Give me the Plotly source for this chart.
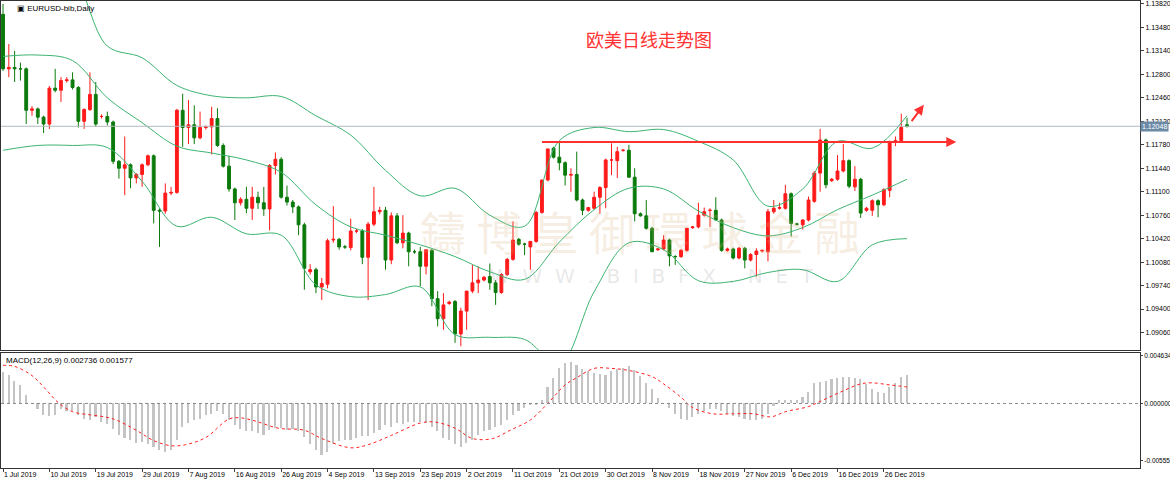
import plotly.graph_objects as go

# daily bars, 1 Jul 2019 .. 31 Dec 2019 (bar index = position)
opens = [1.1367, 1.1288, 1.1290, 1.1288, 1.1288, 1.1228, 1.1230, 1.1218, 1.1208, 1.1260,
         1.1257, 1.1271, 1.1272, 1.1261, 1.1212, 1.1229, 1.1251, 1.1219, 1.1219, 1.1211,
         1.1154, 1.1144, 1.1149, 1.1130, 1.1135, 1.1149, 1.1162, 1.1083, 1.1082, 1.1108,
         1.1109, 1.1228, 1.1203, 1.1207, 1.1188, 1.1203, 1.1204, 1.1216, 1.1177, 1.1147,
         1.1114, 1.1094, 1.1099, 1.1086, 1.1102, 1.1094, 1.1085, 1.1148, 1.1157, 1.1102,
         1.1095, 1.1088, 1.1062, 1.0994, 1.0997, 1.0972, 1.0976, 1.1040, 1.1041, 1.1030,
         1.1029, 1.1053, 1.1053, 1.1015, 1.1063, 1.1081, 1.1083, 1.1011, 1.1075, 1.1036,
         1.1050, 1.1023, 1.1023, 1.1002, 1.1025, 1.0955, 1.0926, 1.0948, 1.0951, 1.0904,
         1.0937, 1.0966, 1.0978, 1.0982, 1.0987, 1.0978, 1.0964, 1.0990, 1.1012, 1.1041,
         1.1034, 1.1030, 1.1038, 1.1080, 1.1127, 1.1173, 1.1160, 1.1152, 1.1134, 1.1135,
         1.1098, 1.1083, 1.1086, 1.1102, 1.1116, 1.1156, 1.1155, 1.1170, 1.1170, 1.1131,
         1.1078, 1.1075, 1.1057, 1.1026, 1.1027, 1.1040, 1.1016, 1.1016, 1.1025, 1.1058,
         1.1059, 1.1076, 1.1083, 1.1083, 1.1069, 1.1025, 1.1027, 1.1014, 1.1028, 1.1011,
         1.1019, 1.1024, 1.1023, 1.1081, 1.1086, 1.1086, 1.1107, 1.1063, 1.1062, 1.1069,
         1.1096, 1.1137, 1.1185, 1.1126, 1.1128, 1.1140, 1.1155, 1.1117, 1.1128, 1.1083,
         1.1083, 1.1097, 1.1091, 1.1112, 1.1182, 1.1184, 1.1207]
highs = [1.1382, 1.1324, 1.1314, 1.1297, 1.1290, 1.1234, 1.1232, 1.1220, 1.1263, 1.1288,
         1.1276, 1.1276, 1.1283, 1.1263, 1.1231, 1.1283, 1.1269, 1.1222, 1.1226, 1.1213,
         1.1156, 1.1190, 1.1151, 1.1137, 1.1151, 1.1164, 1.1164, 1.1086, 1.1122, 1.1117,
         1.1230, 1.1252, 1.1243, 1.1235, 1.1226, 1.1206, 1.1233, 1.1231, 1.1180, 1.1162,
         1.1116, 1.1102, 1.1117, 1.1117, 1.1110, 1.1117, 1.1150, 1.1167, 1.1160, 1.1119,
         1.1098, 1.1090, 1.1065, 1.1005, 1.1000, 1.0985, 1.1042, 1.1089, 1.1043, 1.1033,
         1.1071, 1.1056, 1.1056, 1.1066, 1.1117, 1.1088, 1.1088, 1.1080, 1.1079, 1.1076,
         1.1052, 1.1026, 1.1030, 1.1026, 1.1027, 1.0966, 1.0963, 1.0952, 1.0953, 1.0942,
         1.0966, 1.1004, 1.1002, 1.0988, 1.1006, 1.0982, 1.0992, 1.1014, 1.1067, 1.1043,
         1.1036, 1.1036, 1.1082, 1.1127, 1.1172, 1.1175, 1.1182, 1.1154, 1.1144, 1.1168,
         1.1100, 1.1088, 1.1110, 1.1118, 1.1158, 1.1180, 1.1175, 1.1172, 1.1178, 1.1144,
         1.1080, 1.1098, 1.1059, 1.1028, 1.1047, 1.1042, 1.1018, 1.1027, 1.1057, 1.1060,
         1.1094, 1.1087, 1.1086, 1.1102, 1.1071, 1.1029, 1.1029, 1.1030, 1.1030, 1.1021,
         1.1028, 1.1026, 1.1085, 1.1098, 1.1094, 1.1120, 1.1109, 1.1065, 1.1070, 1.1103,
         1.1140, 1.1201, 1.1187, 1.1130, 1.1163, 1.1179, 1.1157, 1.1147, 1.1130, 1.1088,
         1.1099, 1.1099, 1.1115, 1.1184, 1.1190, 1.1223, 1.1217]
lows = [1.1285, 1.1276, 1.1269, 1.1271, 1.1208, 1.1220, 1.1208, 1.1195, 1.1201, 1.1254,
        1.1240, 1.1268, 1.1258, 1.1203, 1.1201, 1.1227, 1.1204, 1.1216, 1.1206, 1.1150,
        1.1129, 1.1105, 1.1115, 1.1122, 1.1117, 1.1147, 1.1064, 1.1030, 1.1078, 1.1105,
        1.1107, 1.1175, 1.1179, 1.1179, 1.1186, 1.1200, 1.1164, 1.1175, 1.1145, 1.1110,
        1.1069, 1.1090, 1.1079, 1.1069, 1.1085, 1.1075, 1.1054, 1.1135, 1.1100, 1.1090,
        1.1079, 1.1047, 1.0968, 1.0990, 1.0963, 1.0953, 1.0970, 1.1036, 1.1026, 1.1027,
        1.1025, 1.1050, 1.1005, 1.0953, 1.1060, 1.1077, 1.0997, 1.1005, 1.1034, 1.1028,
        1.1002, 1.1020, 1.0973, 1.0990, 1.0944, 1.0915, 1.0910, 1.0946, 1.0891, 1.0886,
        1.0910, 1.0963, 1.0963, 1.0980, 1.0968, 1.0946, 1.0962, 1.0988, 1.1010, 1.1032,
        1.1018, 1.0997, 1.1036, 1.1078, 1.1125, 1.1158, 1.1141, 1.1119, 1.1110, 1.1096,
        1.1076, 1.1081, 1.1084, 1.1078, 1.1086, 1.1134, 1.1130, 1.1168, 1.1131, 1.1067,
        1.1074, 1.1055, 1.1023, 1.1024, 1.1025, 1.1002, 1.1004, 1.1014, 1.1023, 1.1056,
        1.1057, 1.1074, 1.1059, 1.1068, 1.1023, 1.1023, 1.1012, 1.1012, 1.0999, 1.1009,
        1.0987, 1.1022, 1.1009, 1.1078, 1.1084, 1.1084, 1.1045, 1.1061, 1.1055, 1.1067,
        1.1094, 1.1110, 1.1115, 1.1124, 1.1126, 1.1138, 1.1115, 1.1111, 1.1072, 1.1081,
        1.1075, 1.1073, 1.1089, 1.1102, 1.1176, 1.1182, 1.1203]
closes = [1.1288, 1.1290, 1.1288, 1.1288, 1.1228, 1.1230, 1.1218, 1.1208, 1.1260, 1.1257,
          1.1271, 1.1272, 1.1261, 1.1212, 1.1229, 1.1251, 1.1208, 1.1219, 1.1211, 1.1154,
          1.1144, 1.1149, 1.1130, 1.1135, 1.1149, 1.1162, 1.1083, 1.1082, 1.1108, 1.1109,
          1.1228, 1.1203, 1.1207, 1.1188, 1.1203, 1.1204, 1.1216, 1.1177, 1.1147, 1.1114,
          1.1094, 1.1099, 1.1086, 1.1102, 1.1094, 1.1085, 1.1148, 1.1157, 1.1102, 1.1095,
          1.1088, 1.1062, 1.0999, 1.0997, 1.0972, 1.0977, 1.1039, 1.1041, 1.1030, 1.1030,
          1.1053, 1.1053, 1.1015, 1.1063, 1.1081, 1.1083, 1.1011, 1.1075, 1.1036, 1.1050,
          1.1023, 1.1023, 1.1002, 1.1026, 1.0955, 1.0926, 1.0946, 1.0950, 1.0904, 1.0937,
          1.0966, 1.0978, 1.0982, 1.0986, 1.0978, 1.0964, 1.0990, 1.1012, 1.1040, 1.1034,
          1.1034, 1.1038, 1.1080, 1.1127, 1.1172, 1.1160, 1.1152, 1.1134, 1.1135, 1.1098,
          1.1083, 1.1087, 1.1102, 1.1116, 1.1156, 1.1156, 1.1168, 1.1170, 1.1131, 1.1078,
          1.1075, 1.1057, 1.1023, 1.1027, 1.1040, 1.1017, 1.1016, 1.1025, 1.1057, 1.1059,
          1.1076, 1.1081, 1.1083, 1.1069, 1.1025, 1.1027, 1.1014, 1.1028, 1.1011, 1.1019,
          1.1024, 1.1025, 1.1081, 1.1086, 1.1087, 1.1107, 1.1064, 1.1063, 1.1069, 1.1098,
          1.1137, 1.1185, 1.1120, 1.1128, 1.1140, 1.1155, 1.1118, 1.1128, 1.1079, 1.1086,
          1.1097, 1.1091, 1.1113, 1.1182, 1.1184, 1.1203, 1.1205]

# Bollinger bands (20) read every 6 bars
band_idx = list(range(0, 157, 6))
bb_upper = [1.1441, 1.1440, 1.1422, 1.1321, 1.1304, 1.1264, 1.1249, 1.1246, 1.1248, 1.1220,
            1.1192, 1.1141, 1.1104, 1.1115, 1.1076, 1.1060, 1.1184, 1.1203, 1.1197, 1.1200,
            1.1183, 1.1156, 1.1089, 1.1114, 1.1183, 1.1173, 1.1220]
bb_middle = [1.1306, 1.1308, 1.1300, 1.1246, 1.1210, 1.1176, 1.1166, 1.1156, 1.1138, 1.1091,
             1.1059, 1.1047, 1.1033, 1.1016, 1.0994, 1.0983, 1.1037, 1.1084, 1.1115, 1.1114,
             1.1082, 1.1058, 1.1046, 1.1058, 1.1084, 1.1105, 1.1128]
bb_lower = [1.1170, 1.1177, 1.1177, 1.1174, 1.1125, 1.1060, 1.1073, 1.1049, 1.1047, 1.0975,
            1.0958, 1.0961, 1.0972, 1.0903, 1.0899, 1.0896, 1.0860, 1.0965, 1.1036, 1.1026,
            1.0981, 1.0980, 1.0993, 1.0997, 1.0980, 1.1033, 1.1042]

# MACD(12,26,9) main (histogram) and signal
macd_main = [0.0030, 0.00275, 0.0022, 0.0018, 0.0008, 0.0, -0.0006, -0.0011, -0.0012, -0.0011,
             -0.0006, -0.0008, -0.0008, -0.0011, -0.0015, -0.0016, -0.0013, -0.0018, -0.0020, -0.0025,
             -0.0031, -0.0034, -0.0036, -0.0039, -0.0038, -0.0040, -0.0042, -0.0045, -0.0047, -0.0045,
             -0.0036, -0.0023, -0.0019, -0.0016, -0.0015, -0.0011, -0.0010, -0.0008, -0.0010, -0.0016,
             -0.0021, -0.0025, -0.0027, -0.0027, -0.0029, -0.0031, -0.0026, -0.0024, -0.0024, -0.0026,
             -0.0025, -0.0027, -0.0033, -0.0040, -0.0045, -0.0050, -0.0047, -0.0040, -0.0037, -0.0036,
             -0.0036, -0.0034, -0.0032, -0.0032, -0.0029, -0.0026, -0.0021, -0.0023, -0.0019, -0.0020,
             -0.0018, -0.0018, -0.0018, -0.0019, -0.0023, -0.0027, -0.0034, -0.0036, -0.0040, -0.0042,
             -0.0039, -0.0036, -0.0031, -0.0027, -0.0026, -0.0023, -0.0021, -0.0016, -0.0011, -0.0008,
             -0.0005, -0.0002, -0.0001, 0.0003, 0.0016, 0.0024, 0.0034,
             0.0039, 0.0040, 0.0037, 0.0033, 0.0031, 0.0029, 0.0028, 0.0027, 0.0031, 0.0033,
             0.0034, 0.0036, 0.0032, 0.0026, 0.0020, 0.0014, 0.0005, 0.0, -0.0005, -0.0010,
             -0.0015, -0.0016, -0.0013, -0.0010, -0.0008, -0.0006, -0.0006, -0.0008, -0.0010, -0.0012,
             -0.0013, -0.0015, -0.0016, -0.0016, -0.0015, -0.0010, -0.0003, 0.0003, 0.0003, 0.0003,
             0.0003, 0.0006, 0.0011, 0.0020, 0.0021, 0.0022, 0.0023, 0.0024, 0.0025,
             0.0025, 0.0024, 0.0023, 0.0019, 0.0014, 0.0011, 0.0010, 0.0016, 0.0020, 0.0025, 0.0027]
signal_idx = [0, 2, 5, 7.5, 9.5, 12, 15, 17.5, 19.5, 23, 26, 29, 31.5, 35, 39, 41, 43.5, 47.5,
              52, 55, 60, 63, 67, 72, 74.5, 78, 81, 84.5, 87.5, 91, 94, 97, 99, 102, 105, 108,
              112, 114, 117, 119, 122.5, 126, 129.5, 132.5, 135, 139, 141, 144.5, 148, 150, 153, 156]
signal_val = [0.0037, 0.0036, 0.0027, 0.0013, 0.0001, -0.0008, -0.0011, -0.0013, -0.0016, -0.0026,
              -0.0036, -0.0041, -0.0040, -0.0033, -0.0015, -0.0014, -0.0017, -0.0024, -0.0026, -0.0034,
              -0.0043, -0.0040, -0.0031, -0.0019, -0.0018, -0.0024, -0.0034, -0.0034, -0.0026, -0.0016,
              0.0, 0.0018, 0.0025, 0.0034, 0.0034, 0.0032, 0.0026, 0.0019, 0.0006, -0.0004,
              -0.0010, -0.0010, -0.0010, -0.0013, -0.0008, -0.0003, 0.0002, 0.0011, 0.0019, 0.0020,
              0.0018, 0.0016]

date_idx = list(range(0, 153, 8))
date_labels = ["1 Jul 2019", "10 Jul 2019", "19 Jul 2019", "29 Jul 2019", "7 Aug 2019",
               "16 Aug 2019", "26 Aug 2019", "4 Sep 2019", "13 Sep 2019", "23 Sep 2019",
               "2 Oct 2019", "11 Oct 2019", "21 Oct 2019", "30 Oct 2019", "8 Nov 2019",
               "18 Nov 2019", "27 Nov 2019", "6 Dec 2019", "16 Dec 2019", "26 Dec 2019"]
price_ticks = [1.13820, 1.13480, 1.13140, 1.12800, 1.12460, 1.12120, 1.11780, 1.11440,
               1.11100, 1.10760, 1.10420, 1.10080, 1.09740, 1.09400, 1.09060]
last_price = 1.12048
resistance = 1.1182

FONT = "Liberation Sans"
GREEN = "#3cb371"
fig = go.Figure()

fig.add_trace(go.Candlestick(
    x=list(range(len(closes))), open=opens, high=highs, low=lows, close=closes,
    increasing=dict(line=dict(color="#ff1a1a", width=1), fillcolor="#ff1a1a"),
    decreasing=dict(line=dict(color="#0a7a0a", width=1), fillcolor="#0a7a0a"),
    whiskerwidth=0, xaxis="x", yaxis="y", showlegend=False, hoverinfo="skip"))
for band in (bb_upper, bb_middle, bb_lower):
    fig.add_trace(go.Scatter(x=band_idx, y=band, mode="lines", line=dict(color=GREEN, width=1, shape="spline"),
                             xaxis="x", yaxis="y", showlegend=False, hoverinfo="skip"))

fig.add_trace(go.Bar(x=list(range(len(macd_main))), y=macd_main, width=0.28, marker_color="#c4c4c4",
                     marker_line_width=0, xaxis="x2", yaxis="y2", showlegend=False, hoverinfo="skip"))
fig.add_trace(go.Scatter(x=signal_idx, y=signal_val, mode="lines",
                         line=dict(color="#ff2020", width=1, dash="dot", shape="spline"),
                         xaxis="x2", yaxis="y2", showlegend=False, hoverinfo="skip"))

xr = [-0.35, 196.2]
ax_font = dict(family=FONT, size=7, color="#000")
fig.update_layout(
    width=1170, height=484, margin=dict(l=1, r=30, t=1, b=16, autoexpand=False),
    paper_bgcolor="white", plot_bgcolor="white", bargap=0,
    xaxis=dict(domain=[0, 1], range=xr, anchor="y", showticklabels=False, showgrid=False,
               zeroline=False, rangeslider=dict(visible=False), showline=True, mirror=True,
               linecolor="#333", linewidth=1, ticks="", automargin=False),
    yaxis=dict(domain=[0.252, 1], range=[1.08802, 1.13863], side="right", tickvals=price_ticks,
               ticktext=[f"{v:.5f}" for v in price_ticks], showgrid=False, zeroline=False,
               ticks="outside", ticklen=3, tickfont=ax_font, showline=True, linecolor="#333",
               mirror=True, automargin=False),
    xaxis2=dict(domain=[0, 1], range=xr, anchor="y2", tickvals=date_idx, ticktext=date_labels,
                ticklabelposition="outside right", tickangle=0, tickfont=ax_font, ticks="outside",
                ticklen=3, showgrid=False, zeroline=False, showline=True, linecolor="#333",
                mirror=True, automargin=False),
    yaxis2=dict(domain=[0, 0.2457], range=[-0.00626, 0.00487], side="right",
                tickvals=[0.004634, 0.0, -0.00555], ticktext=["0.004634", "0.000000", "-0.00555"],
                tickfont=dict(family=FONT, size=6.5, color="#000"), ticks="outside", ticklen=2,
                showgrid=False, zeroline=False, showline=True, linecolor="#333", mirror=True,
                automargin=False),
)

# MACD zero line, price line, resistance line
fig.add_shape(type="line", xref="x2", yref="y2", x0=xr[0], x1=xr[1], y0=0, y1=0,
              line=dict(color="#888", width=1, dash="dot"))
fig.add_shape(type="line", xref="x", yref="y", x0=xr[0], x1=xr[1], y0=last_price, y1=last_price,
              line=dict(color="#b0b8bc", width=1))
fig.add_shape(type="line", xref="x", yref="y", x0=93, x1=162, y0=resistance, y1=resistance,
              line=dict(color="#ff3030", width=2))
fig.add_annotation(x=164.5, y=resistance, ax=160, ay=resistance, xref="x", yref="y", axref="x", ayref="y",
                   text="", showarrow=True, arrowhead=2, arrowsize=1, arrowwidth=2, arrowcolor="#ff3030")
fig.add_annotation(x=158.9, y=1.1236, ax=156.6, ay=1.1210, xref="x", yref="y", axref="x", ayref="y",
                   text="", showarrow=True, arrowhead=2, arrowsize=1, arrowwidth=2, arrowcolor="#ff3030")
fig.add_annotation(x=1.0, y=last_price, xref="paper", yref="y", xanchor="left", yanchor="middle",
                   text="1.12048", showarrow=False, bgcolor="#6b8aa6", font=dict(family=FONT, size=7, color="white"),
                   borderpad=1)

# texts
fig.add_annotation(x=111.5, y=1.1331, xref="x", yref="y", text="欧美日线走势图", showarrow=False,
                   font=dict(family="Noto Sans CJK SC", size=18, color="#ff3333"))
fig.add_annotation(x=0.012, y=0.997, xref="paper", yref="paper", xanchor="left", yanchor="top",
                   text="▣ EURUSD-bib,Daily", showarrow=False, font=dict(family=FONT, size=8, color="#000"))
fig.add_annotation(x=0.003, y=0.245, xref="paper", yref="paper", xanchor="left", yanchor="top",
                   text="MACD(12,26,9) 0.002736 0.001577", showarrow=False,
                   font=dict(family=FONT, size=8, color="#000"))
fig.add_annotation(x=110, y=1.1055, xref="x", yref="y", text="鑄 博 皇 御 環 球 金 融", showarrow=False,
                   font=dict(family="Noto Sans CJK TC", size=46, color="rgba(220,180,130,0.22)"))
fig.add_annotation(x=112, y=1.0988, xref="x", yref="y", text="W  W  W  .  B  I  B  F  X  .  N  E  T",
                   showarrow=False, font=dict(family="DejaVu Sans", size=20, color="rgba(150,150,150,0.22)"))

fig.write_html("out.html", config={"displayModeBar": False},
               post_script="document.body.style.margin='0';document.body.style.overflow='hidden';")
